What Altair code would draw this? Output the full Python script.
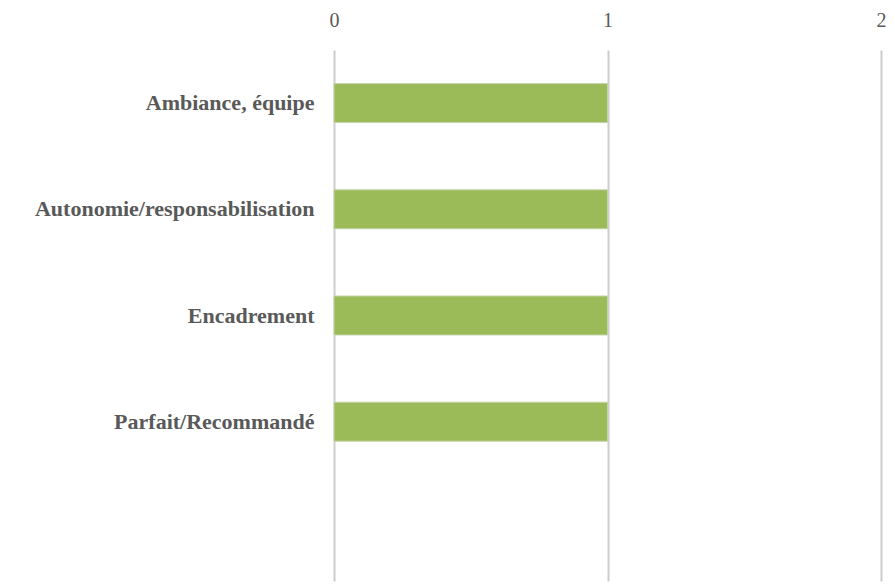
import altair as alt
import pandas as pd

categories = ["Ambiance, équipe", "Autonomie/responsabilisation", "Encadrement", "Parfait/Recommandé", " "]
values = [1, 1, 1, 1, None]
x_ticks = [0, 1, 2]

df = pd.DataFrame({"cat": categories, "val": values})

chart = alt.Chart(df).mark_bar(color="#9BBB59", stroke="#C5D3AA", strokeWidth=1).encode(
    x=alt.X("val:Q", scale=alt.Scale(domain=[0, 2], nice=False),
            axis=alt.Axis(orient="top", values=x_ticks, format=".0f", title=None, labelOverlap=False,
                          domain=False, ticks=False, grid=True, gridColor="#CDCDCD",
                          gridWidth=2, labelFont="Liberation Serif", labelFontSize=20,
                          labelColor="#595959", labelPadding=20, labelFlush=False)),
    y=alt.Y("cat:N", sort=categories,
            scale=alt.Scale(paddingInner=0.633, paddingOuter=0.3165),
            axis=alt.Axis(title=None, domain=False, ticks=False, labelFont="Liberation Serif",
                          labelFontSize=22, labelFontWeight="bold", labelColor="#595959",
                          labelPadding=20, labelLimit=400)),
).properties(
    width=547, height=531,
    autosize=alt.AutoSizeParams(type="none"),
    padding={"left": 326, "top": 42, "right": 6, "bottom": 2},
).configure_view(stroke=None)

chart.save("out.html", embed_options={"renderer": "svg", "actions": False})
